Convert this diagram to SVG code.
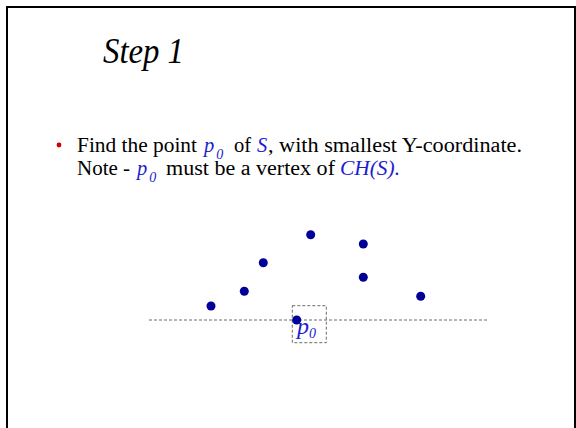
<svg xmlns="http://www.w3.org/2000/svg" width="576" height="428" viewBox="0 0 576 428">
<style>
.t{font-family:"Liberation Serif","Times New Roman",serif;fill:#000}
.s{font-size:20.5px}
.b{fill:#1c1cd0;font-style:italic}
.sub{font-size:14px}
.pt{fill:#000099}
.dash{stroke:#444;stroke-width:0.8;stroke-dasharray:3,2;fill:none}
</style>
<rect x="0" y="0" width="576" height="428" fill="#fff"/>
<rect x="7" y="7" width="568" height="430" fill="none" stroke="#000" stroke-width="2"/>
<g id="title"><text class="t" x="103" y="63" font-size="35" font-style="italic" textLength="81" lengthAdjust="spacingAndGlyphs">Step 1</text></g>
<g id="bullet">
<circle cx="59" cy="145" r="2.4" fill="#d00000"/>
<text class="t s" x="77" y="152" textLength="120" lengthAdjust="spacingAndGlyphs">Find the point</text>
<text class="t s b" x="204" y="152">p<tspan class="sub" dx="2" dy="7">0</tspan></text>
<text class="t s" x="234" y="152">of</text>
<text class="t s b" x="257" y="152">S</text>
<text class="t s" x="268" y="152" textLength="254" lengthAdjust="spacingAndGlyphs">, with smallest Y-coordinate.</text>
<text class="t s" x="77" y="175" textLength="53" lengthAdjust="spacingAndGlyphs">Note -</text>
<text class="t s b" x="137" y="175">p<tspan class="sub" dx="2" dy="7">0</tspan></text>
<text class="t s" x="166" y="175" textLength="169" lengthAdjust="spacingAndGlyphs">must be a vertex of</text>
<text class="t s b" x="340" y="175" textLength="60" lengthAdjust="spacingAndGlyphs">CH(S).</text>
</g>
<g id="connectors">
<line class="dash" x1="149" y1="320" x2="487" y2="320"/>
</g>
<g id="points">
<circle class="pt" cx="310.7" cy="234.7" r="4.5"/>
<circle class="pt" cx="363.3" cy="244" r="4.5"/>
<circle class="pt" cx="263.3" cy="262.7" r="4.5"/>
<circle class="pt" cx="363.3" cy="277.3" r="4.5"/>
<circle class="pt" cx="244.3" cy="291.3" r="4.5"/>
<circle class="pt" cx="420.7" cy="296.3" r="4.5"/>
<circle class="pt" cx="211" cy="306" r="4.5"/>
</g>
<g id="p0">
<rect class="dash" x="292.3" y="305.7" width="34" height="37"/>
<circle class="pt" cx="296.7" cy="320" r="4.5"/>
<text class="t b" x="297" y="334" font-size="24">p<tspan font-size="14" dy="4">0</tspan></text>
</g>
</svg>
